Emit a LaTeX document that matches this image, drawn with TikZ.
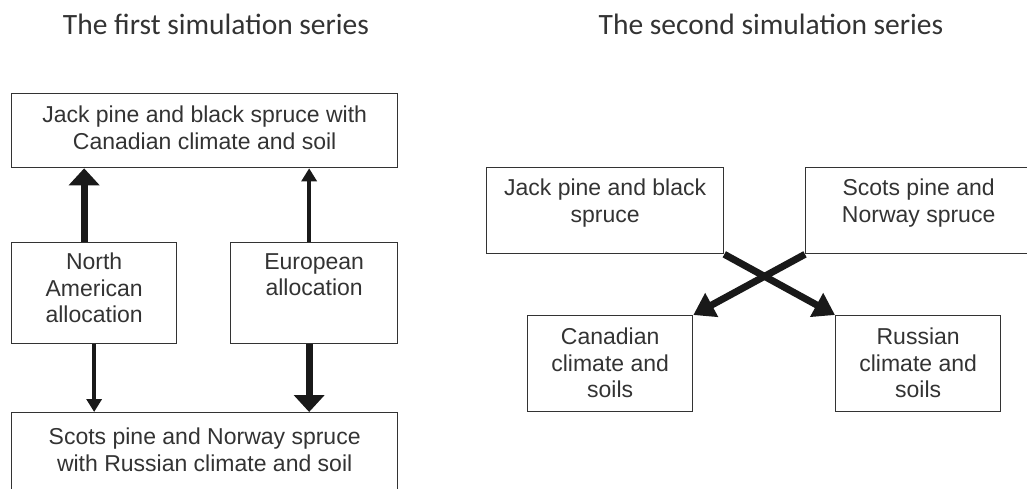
\documentclass[tikz,border=0pt]{standalone}
\usepackage{fontspec}
\setmainfont{Liberation Sans}
\newfontfamily\titlefont{Carlito}
\usetikzlibrary{positioning,calc,arrows.meta}
\definecolor{inkgray}{HTML}{333333}
\tikzset{
    % frames of the simulation boxes
    simbox/.style={draw=inkgray, line width=1.3pt, rectangle,
                   anchor=north west, inner sep=0pt},
    boxtext/.style={align=center, inner sep=0pt, anchor=north,
                    text=inkgray, font=\fontsize{23}{26.5}\selectfont},
    seriestitle/.style={anchor=base, inner sep=0pt, text=black!80,
                        font=\titlefont\fontsize{29.5}{32}\selectfont},
    % arrows
    bigarrow/.style={-{Triangle[width=30pt,length=17pt]}, line width=7pt, draw=black!90},
    smallarrow/.style={-{Triangle[width=15pt,length=13pt]}, line width=4.5pt, draw=black!90},
    crossarrow/.style={-{Triangle[width=26pt,length=21pt]}, line width=7pt, draw=black!90}
}
\begin{document}
\begin{tikzpicture}[x=1pt, y=-1pt]
    \clip (0,0) rectangle (1027,488);

    % first series
    \node[seriestitle] (title1) at (216,34) {The first simulation series};
    \node[simbox, minimum width=386pt, minimum height=74pt] (jbcan) at (11,93) {};
    \node[boxtext, below=13pt of jbcan.north] (jbcan-t)
        {Jack pine and black spruce with\\Canadian climate and soil};
    \node[simbox, minimum width=165pt, minimum height=101pt] (naalloc) at (11,242) {};
    \node[boxtext, below=11pt of naalloc.north] (naalloc-t) {North\\American\\allocation};
    \node[simbox, minimum width=167pt, minimum height=101pt] (euralloc) at (230,242) {};
    \node[boxtext, below=11pt of euralloc.north] (euralloc-t) {European\\allocation};
    \node[simbox, minimum width=386pt, minimum height=90pt] (spruss) at (11,412) {};
    \node[boxtext, below=16pt of spruss.north] (spruss-t)
        {Scots pine and Norway spruce\\with Russian climate and soil};

    \draw[bigarrow] ([xshift=-10pt]naalloc.north) -- ([xshift=-10pt]naalloc.north |- jbcan.south);
    \draw[smallarrow] (naalloc.south) -- (naalloc.south |- spruss.north);
    \draw[smallarrow] ([xshift=-5pt]euralloc.north) -- ([xshift=-5pt]euralloc.north |- jbcan.south);
    \draw[bigarrow] ([xshift=-5pt]euralloc.south) -- ([xshift=-5pt]euralloc.south |- spruss.north);

    % second series
    \node[seriestitle] (title2) at (771,34) {The second simulation series};
    \node[simbox, minimum width=237pt, minimum height=86pt] (jbspruce) at (486,167) {};
    \node[boxtext, below=12pt of jbspruce.north] (jbspruce-t) {Jack pine and black\\spruce};
    \node[simbox, minimum width=226pt, minimum height=86pt] (spnorway) at (805,167) {};
    \node[boxtext, below=12pt of spnorway.north] (spnorway-t) {Scots pine and\\Norway spruce};
    \node[simbox, minimum width=165pt, minimum height=96pt] (cansoil) at (527,315) {};
    \node[boxtext, below=13pt of cansoil.north] (cansoil-t) {Canadian\\climate and\\soils};
    \node[simbox, minimum width=165pt, minimum height=96pt] (russoil) at (835,315) {};
    \node[boxtext, below=13pt of russoil.north] (russoil-t) {Russian\\climate and\\soils};

    \draw[crossarrow] (jbspruce.south east) -- (russoil.north west);
    \draw[crossarrow] (spnorway.south west) -- (cansoil.north east);
\end{tikzpicture}
\end{document}
